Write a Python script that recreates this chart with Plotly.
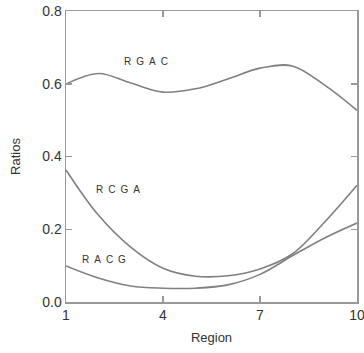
import plotly.graph_objects as go

regions = [1, 2, 3, 4, 5, 6, 7, 8, 9, 10]
rgac = [0.599, 0.628, 0.602, 0.577, 0.586, 0.613, 0.643, 0.649, 0.596, 0.527]
rcga = [0.363, 0.239, 0.151, 0.093, 0.071, 0.072, 0.091, 0.132, 0.220, 0.321]
racg = [0.099, 0.066, 0.044, 0.038, 0.038, 0.047, 0.076, 0.127, 0.176, 0.217]

labels = ["R\u2002G\u2002A\u2002C", "R\u2002C\u2002G\u2002A", "R\u2002A\u2002C\u2002G"]
label_x = [3.47, 2.62, 2.16]
label_y = [0.662, 0.31, 0.118]

x_ticks = [1, 4, 7, 10]
y_ticks = [0.0, 0.2, 0.4, 0.6, 0.8]

line_color = "#808080"
font_family = "Liberation Sans, Arial, sans-serif"
fig = go.Figure()
for ys in (rgac, rcga, racg):
    fig.add_trace(go.Scatter(x=regions, y=ys, mode="lines",
                             line=dict(color=line_color, width=1.6, shape="spline", smoothing=1.0),
                             showlegend=False))

for t, xx, yy in zip(labels, label_x, label_y):
    fig.add_annotation(x=xx, y=yy, text=t, showarrow=False,
                       font=dict(family=font_family, size=10, color="#333"))

axis_common = dict(showline=True, linecolor="#999", linewidth=1.5, mirror="ticks",
                   ticks="inside", ticklen=6, tickwidth=1.5, tickcolor="#999",
                   showgrid=False, zeroline=False, automargin=False,
                   ticklabeloverflow="allow",
                   tickfont=dict(family=font_family, size=14, color="#333"),
                   title_font=dict(family=font_family, size=13, color="#333"))

fig.update_xaxes(range=[1, 10], tickvals=x_ticks, title_text="Region", title_standoff=10, **axis_common)
fig.update_yaxes(range=[0, 0.8], tickvals=y_ticks, tickformat=".1f", title_text="Ratios", title_standoff=18, **axis_common)

fig.update_layout(width=364, height=353, margin=dict(l=66, r=7, t=11, b=51),
                  plot_bgcolor="white", paper_bgcolor="white")

fig.write_html("out.html", config={"displayModeBar": False, "staticPlot": True},
               post_script="document.body.style.margin='0';document.body.style.overflow='hidden';")
